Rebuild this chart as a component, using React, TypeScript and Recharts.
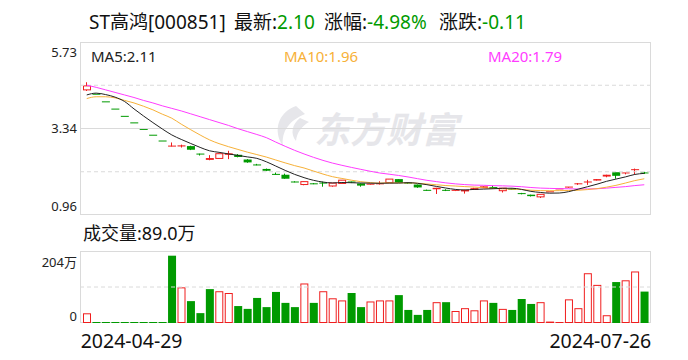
import React from "react";
import { ComposedChart, Bar, Line, XAxis, YAxis, ReferenceLine } from "recharts";

// trading days shown (one suspended day is missing)
const dates = [
  "2024-04-29",
  "2024-05-06", "2024-05-07", "2024-05-08", "2024-05-09", "2024-05-10",
  "2024-05-13", "2024-05-14", "2024-05-15", "2024-05-16", "2024-05-17",
  "2024-05-20", "2024-05-21", "2024-05-22", "2024-05-23", "2024-05-24",
  "2024-05-27", "2024-05-28", "2024-05-29", "2024-05-30", "2024-05-31",
  "2024-06-03", "2024-06-04", "2024-06-05", "2024-06-06", "2024-06-07",
  "2024-06-11", "2024-06-12", "2024-06-13", "2024-06-14",
  "2024-06-17", "2024-06-18", "2024-06-19", "2024-06-20", "2024-06-21",
  "2024-06-24", "2024-06-25", "2024-06-26", "2024-06-27", "2024-06-28",
  "2024-07-01", "2024-07-02", "2024-07-03", "2024-07-04", "2024-07-05",
  "2024-07-08", "2024-07-09", "2024-07-10", "2024-07-11", "2024-07-12",
  "2024-07-15", "2024-07-16", "2024-07-17", "2024-07-18", "2024-07-19",
  "2024-07-22", "2024-07-23", "2024-07-24", "2024-07-25", "2024-07-26",
];

const opens = [
  4.41, 4.29, 4.08, 3.88, 3.68, 3.5, 3.32, 3.16, 3.0, 2.85,
  2.85, 2.86, 2.64, 2.48, 2.52, 2.62, 2.62, 2.49, 2.34, 2.23,
  2.08, 2.07, 1.87, 1.8, 1.82, 1.84, 1.76, 1.83, 1.87, 1.83,
  1.8, 1.8, 1.85, 1.95, 1.84, 1.8, 1.64, 1.67, 1.64, 1.63,
  1.61, 1.65, 1.7, 1.73, 1.63, 1.67, 1.55, 1.52, 1.46, 1.6,
  1.68, 1.71, 1.81, 1.85, 1.91, 2.02, 2.14, 2.1, 2.19, 2.12,
];
const highs = [
  4.62, 4.29, 4.08, 3.88, 3.68, 3.5, 3.32, 3.16, 3.0, 2.96,
  2.9, 2.87, 2.65, 2.61, 2.65, 2.73, 2.64, 2.5, 2.37, 2.24,
  2.13, 2.1, 1.89, 1.88, 1.84, 1.88, 1.84, 1.92, 1.88, 1.83,
  1.82, 1.89, 1.95, 1.95, 1.85, 1.8, 1.66, 1.71, 1.67, 1.64,
  1.66, 1.71, 1.75, 1.77, 1.7, 1.69, 1.57, 1.52, 1.53, 1.6,
  1.68, 1.73, 1.84, 1.93, 1.95, 2.07, 2.14, 2.12, 2.24, 2.15,
];
const lows = [
  4.38, 4.29, 4.08, 3.88, 3.68, 3.5, 3.32, 3.16, 3.0, 2.85,
  2.82, 2.75, 2.6, 2.47, 2.52, 2.5, 2.55, 2.4, 2.33, 2.17,
  2.07, 1.96, 1.86, 1.78, 1.81, 1.74, 1.74, 1.83, 1.84, 1.74,
  1.8, 1.8, 1.85, 1.85, 1.82, 1.71, 1.63, 1.54, 1.62, 1.62,
  1.55, 1.65, 1.7, 1.68, 1.58, 1.66, 1.53, 1.47, 1.43, 1.6,
  1.68, 1.71, 1.79, 1.79, 1.91, 2.0, 1.96, 2.08, 2.08, 2.09,
];
const closes = [
  4.52, 4.29, 4.08, 3.88, 3.68, 3.5, 3.32, 3.16, 3.0, 2.86,
  2.88, 2.76, 2.62, 2.53, 2.65, 2.66, 2.56, 2.41, 2.33, 2.18,
  2.07, 1.96, 1.86, 1.88, 1.81, 1.83, 1.84, 1.92, 1.85, 1.77,
  1.81, 1.82, 1.95, 1.85, 1.83, 1.72, 1.63, 1.71, 1.63, 1.64,
  1.65, 1.7, 1.75, 1.68, 1.7, 1.66, 1.54, 1.48, 1.53, 1.6,
  1.68, 1.73, 1.82, 1.87, 1.95, 2.07, 2.04, 2.12, 2.21, 2.1,
];
// 成交量 in 万
const volumes = [
  27.5, 0.6, 0.6, 0.6, 0.6, 0.6, 0.6, 0.6, 0.6, 190.7,
  101, 62, 28, 96, 90, 85, 48, 40, 71, 45,
  88, 57, 45, 112, 57, 90, 70, 64, 85, 45,
  61, 64, 64, 79, 37, 23, 37, 59, 59, 34,
  42, 36, 64, 57, 40, 37, 68, 54, 59, 4,
  1.5, 67, 42, 141, 108, 22, 116, 121, 146, 89,
];
const ma5 = [
  4.27, 4.32, 4.28, 4.21, 4.09, 3.886, 3.692, 3.508, 3.332, 3.168,
  3.044, 2.932, 2.824, 2.73, 2.688, 2.644, 2.604, 2.562, 2.522, 2.428,
  2.31, 2.19, 2.08, 1.99, 1.916, 1.868, 1.844, 1.856, 1.85, 1.842,
  1.838, 1.834, 1.84, 1.84, 1.852, 1.834, 1.796, 1.748, 1.704, 1.666,
  1.652, 1.666, 1.674, 1.684, 1.696, 1.698, 1.666, 1.612, 1.582, 1.562,
  1.566, 1.604, 1.672, 1.74, 1.81, 1.888, 1.95, 2.01, 2.078, 2.108,
];
const ma10 = [
  4.17, 4.22, 4.22, 4.19, 4.12, 4.05, 3.96, 3.86, 3.74, 3.629,
  3.465, 3.312, 3.166, 3.031, 2.928, 2.844, 2.768, 2.693, 2.626, 2.558,
  2.477, 2.397, 2.321, 2.256, 2.172, 2.089, 2.017, 1.968, 1.92, 1.879,
  1.853, 1.839, 1.848, 1.845, 1.847, 1.836, 1.815, 1.794, 1.772, 1.759,
  1.743, 1.731, 1.711, 1.694, 1.681, 1.675, 1.666, 1.643, 1.633, 1.629,
  1.632, 1.635, 1.642, 1.661, 1.686, 1.727, 1.777, 1.841, 1.909, 1.959,
];
const ma20 = [
  4.54, 4.48, 4.41, 4.34, 4.27, 4.2, 4.12, 4.05, 3.97, 3.9,
  3.83, 3.75, 3.67, 3.59, 3.51, 3.43, 3.34, 3.26, 3.18, 3.093,
  2.971, 2.854, 2.743, 2.643, 2.55, 2.466, 2.392, 2.33, 2.273, 2.219,
  2.166, 2.118, 2.085, 2.05, 2.009, 1.962, 1.916, 1.881, 1.846, 1.819,
  1.798, 1.785, 1.779, 1.769, 1.764, 1.755, 1.74, 1.718, 1.702, 1.694,
  1.687, 1.683, 1.677, 1.678, 1.684, 1.701, 1.722, 1.742, 1.771, 1.794,
];

const priceTicks = [0.96, 3.34, 5.73];
const volTicks = [0, 204];

const RED = "#f01e1e";
const GREEN = "#009a00";
const GRID = "#dadada";
const FONT = '"Noto Sans", "Noto Sans CJK SC", sans-serif';

const rows = dates.map((date, i) => ({
  date,
  open: opens[i],
  high: highs[i],
  low: lows[i],
  close: closes[i],
  range: [lows[i], highs[i]],
  vol: volumes[i],
  up:
    closes[i] > opens[i] ||
    (closes[i] === opens[i] && (i === 0 || closes[i] >= closes[i - 1])),
  volUp: i === 0 ? closes[i] >= opens[i] : closes[i] >= closes[i - 1],
  ma5: ma5[i],
  ma10: ma10[i],
  ma20: ma20[i],
}));

function Candle(props: any) {
  const { x, y, width, height, payload } = props;
  if (x == null || y == null || !payload) return null;
  const top = Math.min(y, y + height);
  const h = Math.abs(height);
  const { open, close, high, low, up } = payload;
  const k = high > low ? h / (high - low) : 0;
  const yOf = (v: number) => top + (high - v) * k;
  const color = up ? RED : GREEN;
  const cx = Math.round(x + width / 2) - 0.5;
  const bTop = yOf(Math.max(open, close));
  const bBot = yOf(Math.min(open, close));
  const bodyH = Math.max(bBot - bTop, 1);
  return (
    <g>
      {h > 0 && (
        <line x1={cx} x2={cx} y1={top} y2={top + h} stroke={color} strokeWidth={1} />
      )}
      {up && bodyH > 2 ? (
        <rect x={x + 0.5} y={bTop} width={width - 1} height={bodyH} fill="#fff" stroke={color} strokeWidth={1} />
      ) : (
        <rect x={x} y={bTop - (bodyH === 1 ? 0.5 : 0)} width={width} height={bodyH} fill={color} />
      )}
    </g>
  );
}

function VolBar(props: any) {
  const { x, y, width, height, payload } = props;
  if (x == null || y == null || !payload) return null;
  const color = payload.volUp ? RED : GREEN;
  const h = Math.max(Math.abs(height), 1);
  const top = Math.max(y, y + height) - h;
  if (payload.volUp && h > 3) {
    return <rect x={x + 0.5} y={top + 0.5} width={width - 1} height={h - 1} fill="#fff" stroke={color} strokeWidth={1} />;
  }
  return <rect x={x} y={top} width={width} height={h} fill={color} />;
}

function PriceTick(props: any) {
  const { y, payload } = props;
  const v = payload.value;
  const dy = v === 5.73 ? 15 : v === 0.96 ? -4 : 4.5;
  return (
    <text x={77} y={y + dy} textAnchor="end" fontSize={13} fill="#222" fontFamily={FONT}>
      {v.toFixed(2)}
    </text>
  );
}

function VolTick(props: any) {
  const { y, payload } = props;
  const v = payload.value;
  return (
    <text x={77} y={y + (v === 0 ? -2.5 : 15.5)} textAnchor="end" fontSize={13} fill="#222" fontFamily={FONT}>
      {v === 0 ? "0" : `${v}万`}
    </text>
  );
}

function DateTick(props: any) {
  const { x, payload } = props;
  const first = payload.value === dates[0];
  return (
    <text x={first ? x - 6 : x + 7} y={348} textAnchor={first ? "start" : "end"} fontSize={19.5} fill="#111" fontFamily={FONT}>
      {payload.value}
    </text>
  );
}

export default function App() {
  return (
    <div style={{ position: "absolute", left: 0, top: 0, width: 688, height: 360, background: "#fff", overflow: "hidden", fontFamily: FONT }}>
      <svg width={688} height={360} style={{ position: "absolute", left: 0, top: 0 }}>
        <g fill="#e6e6ea">
          <path d="M296 106 C279 112 272 130 283 146 C281 131 290 120 305 114 Z" />
          <path d="M300 118 C292 124 290 134 296 141 C297 132 302 126 309 122 Z" />
          <text x={314} y={143} fontSize={36} fontWeight="bold" fontStyle="italic" fontFamily='"Noto Sans CJK SC", sans-serif'>
            东方财富
          </text>
        </g>
        <rect x={80.5} y={42.5} width={570} height={172} fill="none" stroke={GRID} />
        <rect x={80.5} y={251.5} width={570} height={71} fill="none" stroke={GRID} />
        <g fontFamily={FONT}>
          <text x={89} y={29} fontSize={19} fill="#111">ST高鸿[000851]</text>
          <text x={234} y={29} fontSize={19} fill="#111">
            最新:<tspan fill={GREEN}>2.10</tspan>
          </text>
          <text x={324} y={29} fontSize={19} fill="#111">
            涨幅:<tspan fill={GREEN}>-4.98%</tspan>
          </text>
          <text x={439} y={29} fontSize={19} fill="#111">
            涨跌:<tspan fill={GREEN}>-0.11</tspan>
          </text>
          <text x={91} y={62} fontSize={15} fill="#222">MA5:2.11</text>
          <text x={284} y={62} fontSize={15} fill="#f7b138">MA10:1.96</text>
          <text x={488} y={62} fontSize={15} fill="#ff3cff">MA20:1.79</text>
          <text x={83} y={240} fontSize={18} fill="#111">成交量:89.0万</text>
        </g>
      </svg>

      <div style={{ position: "absolute", left: 0, top: 0 }}>
        <ComposedChart width={688} height={360} data={rows} margin={{ top: 42, right: 37, bottom: 145, left: 0 }}>
          <XAxis dataKey="date" hide padding={{ left: 2, right: 2 }} />
          <YAxis
            domain={[0.96, 5.73]}
            ticks={priceTicks}
            width={80}
            axisLine={false}
            tickLine={false}
            tick={(p: any) => <PriceTick {...p} />}
            interval={0}
          />
          <ReferenceLine y={4.5375} stroke={GRID} strokeDasharray="4 3" />
          <ReferenceLine y={3.345} stroke={GRID} />
          <ReferenceLine y={2.1525} stroke={GRID} strokeDasharray="4 3" />
          <Bar dataKey="range" barSize={8} isAnimationActive={false} shape={(p: any) => <Candle {...p} />} />
          <Line dataKey="ma20" type="monotone" stroke="#ff3cff" strokeWidth={1} dot={false} isAnimationActive={false} />
          <Line dataKey="ma10" type="monotone" stroke="#f7b138" strokeWidth={1} dot={false} isAnimationActive={false} />
          <Line dataKey="ma5" type="monotone" stroke="#222" strokeWidth={1} dot={false} isAnimationActive={false} />
        </ComposedChart>
      </div>

      <div style={{ position: "absolute", left: 0, top: 0 }}>
        <ComposedChart width={688} height={360} data={rows} margin={{ top: 251, right: 37, bottom: 0, left: 0 }}>
          <XAxis
            dataKey="date"
            height={37}
            padding={{ left: 2, right: 2 }}
            axisLine={false}
            tickLine={false}
            ticks={[dates[0], dates[dates.length - 1]]}
            interval={0}
            tick={(p: any) => <DateTick {...p} />}
          />
          <YAxis
            domain={[0, 204]}
            ticks={volTicks}
            width={80}
            axisLine={false}
            tickLine={false}
            tick={(p: any) => <VolTick {...p} />}
            interval={0}
          />
          <ReferenceLine y={102} stroke={GRID} strokeDasharray="4 3" />
          <Bar dataKey="vol" barSize={8} isAnimationActive={false} shape={(p: any) => <VolBar {...p} />} />
        </ComposedChart>
      </div>
    </div>
  );
}
